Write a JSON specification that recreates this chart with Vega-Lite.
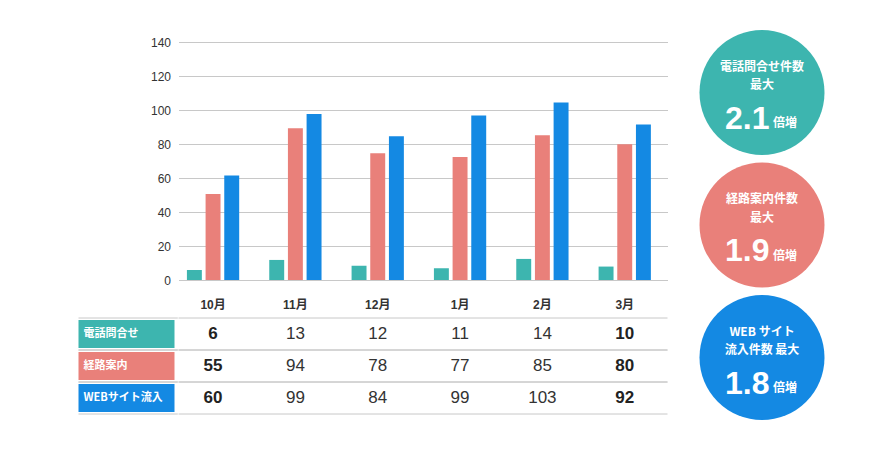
{
  "$schema": "https://vega.github.io/schema/vega-lite/v6.json",
  "autosize": {"type": "pad"},
  "padding": {"left": 77.5, "top": 30, "right": 0, "bottom": 0},
  "background": "white",
  "config": {
    "view": {"stroke": null},
    "font": "Liberation Sans",
    "axis": {"labelFont": "Liberation Sans"}
  },
  "datasets": {
    "monthly": [
      {"month": "10月", "series": "電話問合せ", "chart": 5.9, "count": 6},
      {"month": "10月", "series": "経路案内", "chart": 50.6, "count": 55},
      {"month": "10月", "series": "WEBサイト流入", "chart": 61.4, "count": 60},
      {"month": "11月", "series": "電話問合せ", "chart": 11.8, "count": 13},
      {"month": "11月", "series": "経路案内", "chart": 89.3, "count": 94},
      {"month": "11月", "series": "WEBサイト流入", "chart": 97.6, "count": 99},
      {"month": "12月", "series": "電話問合せ", "chart": 8.4, "count": 12},
      {"month": "12月", "series": "経路案内", "chart": 74.6, "count": 78},
      {"month": "12月", "series": "WEBサイト流入", "chart": 84.6, "count": 84},
      {"month": "1月", "series": "電話問合せ", "chart": 6.9, "count": 11},
      {"month": "1月", "series": "経路案内", "chart": 72.4, "count": 77},
      {"month": "1月", "series": "WEBサイト流入", "chart": 96.8, "count": 99},
      {"month": "2月", "series": "電話問合せ", "chart": 12.4, "count": 14},
      {"month": "2月", "series": "経路案内", "chart": 85.2, "count": 85},
      {"month": "2月", "series": "WEBサイト流入", "chart": 104.4, "count": 103},
      {"month": "3月", "series": "電話問合せ", "chart": 7.9, "count": 10},
      {"month": "3月", "series": "経路案内", "chart": 79.9, "count": 80},
      {"month": "3月", "series": "WEBサイト流入", "chart": 91.5, "count": 92}
    ],
    "circles": [
      {"series": "電話問合せ", "line1": "電話問合せ件数", "line2": "最大", "num": "2.1", "unit": "倍増"},
      {"series": "経路案内", "line1": "経路案内件数", "line2": "最大", "num": "1.9", "unit": "倍増"},
      {"series": "WEBサイト流入", "line1": "WEB サイト", "line2": "流入件数 最大", "num": "1.8", "unit": "倍増"}
    ]
  },
  "concat": [
    {
      "width": 99.3,
      "height": 238,
      "data": {"values": []},
      "mark": {"type": "point", "opacity": 0},
      "encoding": {}
    },
    {
      "width": 489,
      "height": 238,
      "data": {"name": "monthly"},
      "mark": {"type": "bar"},
      "encoding": {
        "x": {"field": "month", "type": "nominal", "sort": ["10月", "11月", "12月", "1月", "2月", "3月"], "scale": {"paddingInner": 0.365, "paddingOuter": 0.152, "align": 0.336, "round": false}, "axis": {"title": null, "labelAngle": 0, "domain": false, "ticks": false, "tickSize": 0, "labelPadding": 19, "labelFontSize": 12, "labelFontWeight": "bold", "labelColor": "#333333", "labelFont": "Liberation Sans, Noto Sans CJK JP"}},
        "xOffset": {"field": "series", "type": "nominal", "sort": ["電話問合せ", "経路案内", "WEBサイト流入"], "scale": {"paddingInner": 0.2, "paddingOuter": 0}},
        "y": {"field": "chart", "type": "quantitative", "scale": {"domain": [0, 140], "nice": false}, "axis": {"values": [0, 20, 40, 60, 80, 100, 120, 140], "title": null, "domain": false, "ticks": false, "labelPadding": 8, "labelFontSize": 12, "labelColor": "#333333", "gridColor": "#c8c8c8"}},
        "color": {"field": "series", "type": "nominal", "scale": {"domain": ["電話問合せ", "経路案内", "WEBサイト流入"], "range": ["#3DB5AF", "#E9807A", "#1489E3"]}, "legend": null}
      }
    },
    {
      "width": 189,
      "height": 238,
      "data": {"name": "circles"},
      "encoding": {
        "y": {"field": "series", "type": "nominal", "sort": ["電話問合せ", "経路案内", "WEBサイト流入"], "scale": {"type": "point", "padding": 0, "range": [50.5, 315.5]}, "axis": null}
      },
      "layer": [
        {
          "mark": {"type": "point", "filled": true, "shape": "circle", "size": 15625, "opacity": 1},
          "encoding": {"color": {"field": "series", "type": "nominal", "legend": null}}
        },
        {
          "mark": {"type": "text", "baseline": "middle", "dy": -25.8, "fontSize": 12, "fontWeight": "bold", "color": "white", "font": "Noto Sans CJK JP"},
          "encoding": {"text": {"field": "line1"}}
        },
        {
          "mark": {"type": "text", "baseline": "middle", "dy": -7.5, "fontSize": 12, "fontWeight": "bold", "color": "white", "font": "Noto Sans CJK JP"},
          "encoding": {"text": {"field": "line2"}}
        },
        {
          "mark": {"type": "text", "align": "right", "baseline": "alphabetic", "dx": 7.5, "dy": 36, "fontSize": 32, "fontWeight": "bold", "color": "white", "font": "Liberation Sans", "letterSpacing": -1},
          "encoding": {"text": {"field": "num"}}
        },
        {
          "mark": {"type": "text", "align": "left", "baseline": "alphabetic", "dx": 11, "dy": 34.5, "fontSize": 12, "fontWeight": "bold", "color": "white", "font": "Noto Sans CJK JP"},
          "encoding": {"text": {"field": "unit"}}
        }
      ]
    },
    {
      "width": 99.3,
      "height": 96,
      "data": {"name": "monthly"},
      "transform": [{"filter": {"field": "month", "equal": "10月"}}],
      "layer": [
        {
          "mark": {"type": "rect", "height": {"band": 0.88}},
          "encoding": {
            "x": {"datum": "項目", "type": "nominal", "scale": {"type": "band", "paddingInner": 0, "paddingOuter": 0.0172, "align": 0}, "axis": null},
            "y": {"field": "series", "type": "nominal", "sort": ["電話問合せ", "経路案内", "WEBサイト流入"], "scale": {"type": "band", "domain": ["電話問合せ", "経路案内", "WEBサイト流入"], "paddingInner": 0, "paddingOuter": 0}, "axis": null},
            "color": {"field": "series", "type": "nominal", "legend": null}
          }
        },
        {
          "mark": {"type": "text", "align": "left", "baseline": "middle", "dx": 5, "fontSize": 11, "fontWeight": "bold", "color": "white", "font": "Noto Sans CJK JP"},
          "encoding": {
            "x": {"datum": "項目", "type": "nominal", "bandPosition": 0},
            "y": {"field": "series", "type": "nominal"},
            "text": {"field": "series"}
          }
        },
        {
          "mark": {"type": "rule", "color": "#c8c8c8"},
          "encoding": {"y": {"field": "series", "type": "nominal", "bandPosition": 0}}
        },
        {
          "mark": {"type": "rule", "color": "#c8c8c8"},
          "encoding": {"y": {"field": "series", "type": "nominal", "bandPosition": 1}}
        }
      ]
    },
    {
      "width": 489,
      "height": 96,
      "data": {"name": "monthly"},
      "layer": [
        {
          "transform": [{"filter": {"field": "month", "equal": "10月"}}],
          "mark": {"type": "rule", "color": "#c8c8c8"},
          "encoding": {"y": {"field": "series", "type": "nominal", "bandPosition": 0, "sort": ["電話問合せ", "経路案内", "WEBサイト流入"], "scale": {"type": "band", "domain": ["電話問合せ", "経路案内", "WEBサイト流入"], "paddingInner": 0, "paddingOuter": 0}, "axis": null}}
        },
        {
          "transform": [{"filter": {"field": "month", "equal": "10月"}}],
          "mark": {"type": "rule", "color": "#c8c8c8"},
          "encoding": {"y": {"field": "series", "type": "nominal", "bandPosition": 1}}
        },
        {
          "transform": [{"filter": {"field": "month", "oneOf": ["10月", "3月"]}}],
          "mark": {"type": "text", "baseline": "middle", "fontSize": 17, "fontWeight": "bold", "color": "#222222"},
          "encoding": {
            "x": {"field": "month", "type": "nominal", "sort": ["10月", "11月", "12月", "1月", "2月", "3月"], "scale": {"type": "band", "domain": ["10月", "11月", "12月", "1月", "2月", "3月"], "paddingInner": 0.365, "paddingOuter": 0.152, "align": 0.336, "round": false}, "axis": null},
            "y": {"field": "series", "type": "nominal"},
            "text": {"field": "count"}
          }
        },
        {
          "transform": [{"filter": {"not": {"field": "month", "oneOf": ["10月", "3月"]}}}],
          "mark": {"type": "text", "baseline": "middle", "fontSize": 17, "color": "#333333"},
          "encoding": {
            "x": {"field": "month", "type": "nominal"},
            "y": {"field": "series", "type": "nominal"},
            "text": {"field": "count"}
          }
        }
      ]
    }
  ],
  "columns": 3,
  "align": "each",
  "bounds": "flush",
  "spacing": {"row": 38, "column": 0}
}
